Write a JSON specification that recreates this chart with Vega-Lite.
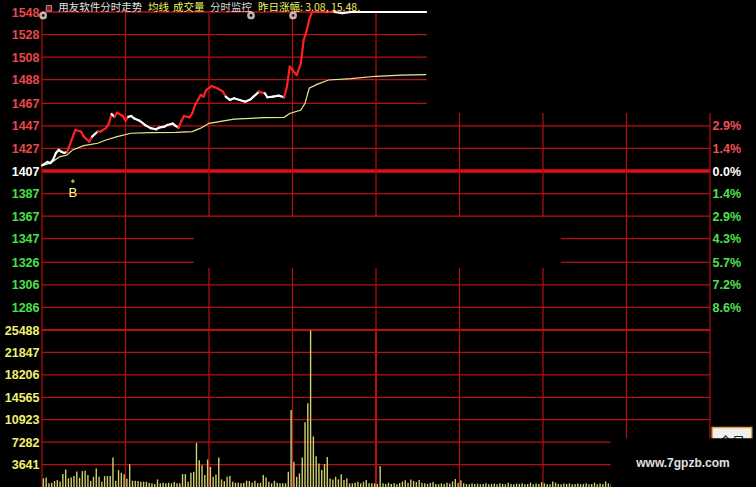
{
"$schema": "https://vega.github.io/schema/vega-lite/v6.json",
"background": "#000000",
"padding": {"left": 3, "top": 3, "right": 0, "bottom": 0},
"bounds": "flush",
"spacing": 0,
"config": {"view": {"stroke": null}, "axis": {"grid": false, "domain": false, "ticks": false, "labelFont": "Liberation Sans", "labelFontSize": 12.5, "labelFontWeight": "bold", "labelPadding": 3, "format": "d"}},
"datasets": {
"price": [{"t":0,"p":1412,"c":"dn"},{"t":2,"p":1415,"c":"dn"},{"t":3,"p":1414,"c":"dn"},{"t":4,"p":1417,"c":"dn"},{"t":5,"p":1423,"c":"dn"},{"t":6,"p":1425.7,"c":"dn"},{"t":7,"p":1424,"c":"dn"},{"t":8,"p":1423,"c":"dn"},{"t":9,"p":1424,"c":"dn"},{"t":12,"p":1443.4,"c":"up"},{"t":14,"p":1442,"c":"up"},{"t":15,"p":1437.5,"c":"up"},{"t":17,"p":1433,"c":"up"},{"t":18,"p":1437.5,"c":"up"},{"t":20,"p":1442,"c":"dn"},{"t":21,"p":1442,"c":"up"},{"t":23,"p":1445,"c":"up"},{"t":24,"p":1449,"c":"up"},{"t":25,"p":1457.6,"c":"up"},{"t":26,"p":1455,"c":"dn"},{"t":27,"p":1458.7,"c":"up"},{"t":29,"p":1455.8,"c":"up"},{"t":30,"p":1451.6,"c":"up"},{"t":31,"p":1455,"c":"up"},{"t":32,"p":1455.8,"c":"dn"},{"t":33,"p":1453.8,"c":"dn"},{"t":35,"p":1451.6,"c":"dn"},{"t":37,"p":1447.8,"c":"dn"},{"t":39,"p":1445,"c":"dn"},{"t":41,"p":1444,"c":"dn"},{"t":42,"p":1445.4,"c":"dn"},{"t":44,"p":1446.3,"c":"dn"},{"t":45,"p":1447.8,"c":"dn"},{"t":47,"p":1449,"c":"dn"},{"t":48,"p":1447,"c":"dn"},{"t":49,"p":1445.4,"c":"dn"},{"t":50,"p":1450.8,"c":"up"},{"t":51,"p":1455.8,"c":"up"},{"t":53,"p":1454.6,"c":"up"},{"t":54,"p":1458.2,"c":"up"},{"t":55,"p":1465.6,"c":"up"},{"t":57,"p":1474.4,"c":"up"},{"t":58,"p":1473,"c":"up"},{"t":59,"p":1478.8,"c":"up"},{"t":61,"p":1482.4,"c":"up"},{"t":62,"p":1481.2,"c":"up"},{"t":63,"p":1480.4,"c":"up"},{"t":65,"p":1477.4,"c":"up"},{"t":66,"p":1473,"c":"up"},{"t":67.5,"p":1470,"c":"dn"},{"t":69,"p":1471.5,"c":"dn"},{"t":71,"p":1470,"c":"dn"},{"t":73,"p":1468.5,"c":"dn"},{"t":75,"p":1470.6,"c":"dn"},{"t":76,"p":1473,"c":"dn"},{"t":78,"p":1477.4,"c":"dn"},{"t":79,"p":1476.5,"c":"up"},{"t":80,"p":1476,"c":"up"},{"t":81,"p":1472.4,"c":"dn"},{"t":83,"p":1473,"c":"dn"},{"t":85,"p":1473.8,"c":"dn"},{"t":87,"p":1472.4,"c":"dn"},{"t":88,"p":1481.8,"c":"up"},{"t":89,"p":1499.5,"c":"up"},{"t":90,"p":1496.6,"c":"up"},{"t":91.5,"p":1492,"c":"up"},{"t":93,"p":1502.5,"c":"up"},{"t":94,"p":1523,"c":"up"},{"t":95,"p":1530.5,"c":"up"},{"t":96,"p":1541,"c":"up"},{"t":97,"p":1548,"c":"up"},{"t":105,"p":1548,"c":"up"},{"t":108,"p":1547,"c":"dn"},{"t":111,"p":1548,"c":"dn"},{"t":138,"p":1548,"c":"dn"}],
"avg": [{"t":0,"a":1411.7},{"t":3,"a":1414},{"t":6.5,"a":1419.8},{"t":9,"a":1421.2},{"t":11,"a":1425.7},{"t":15,"a":1429.5},{"t":20,"a":1431.6},{"t":23,"a":1434.5},{"t":27,"a":1437.5},{"t":32,"a":1440.5},{"t":39,"a":1441},{"t":48,"a":1441.3},{"t":54,"a":1442},{"t":57,"a":1445},{"t":60,"a":1449.3},{"t":69,"a":1453},{"t":80,"a":1454.3},{"t":87,"a":1454.6},{"t":89,"a":1458},{"t":93,"a":1461},{"t":94.5,"a":1467},{"t":96,"a":1480.4},{"t":99,"a":1484},{"t":103,"a":1487.7},{"t":111,"a":1489},{"t":120,"a":1491},{"t":129,"a":1492},{"t":138,"a":1492.5}],
"pgrid": [{"p":1548},{"p":1528},{"p":1508},{"p":1488},{"p":1467},{"p":1447},{"p":1427},{"p":1407},{"p":1387},{"p":1367},{"p":1347},{"p":1326},{"p":1306},{"p":1286}],
"vlines": [{"t":0},{"t":30},{"t":60},{"t":90},{"t":120},{"t":150},{"t":180},{"t":210},{"t":240}],
"pmask": [{"t0":138.3,"t1":262,"p0":1458.5,"p1":1550},{"t0":54.6,"t1":186.5,"p0":1321,"p1":1366.3}],
"head": [{"t":5.8,"s":"用友软件分时走势","k":"name"},{"t":38.1,"s":"均线","k":"ma"},{"t":47.1,"s":"成交量","k":"vol"},{"t":60.4,"s":"分时监控","k":"mon"},{"t":77.6,"s":"昨日涨幅: 3.08, 15.48,","k":"prev"}],
"gears": [{"t":0.4,"p":1545},{"t":75.1,"p":1545},{"t":90.2,"p":1545}],
"vgrid": [{"v":3641},{"v":7282},{"v":10923},{"v":14565},{"v":18206},{"v":21847},{"v":25488}],
"vol": [{"m":0,"v":1400},{"m":1,"v":1560},{"m":2,"v":590},{"m":3,"v":700},{"m":4,"v":970},{"m":5,"v":1130},{"m":6,"v":900},{"m":7,"v":2100},{"m":8,"v":2840},{"m":9,"v":1400},{"m":10,"v":1560},{"m":11,"v":1770},{"m":12,"v":2500},{"m":13,"v":1500},{"m":14,"v":2580},{"m":15,"v":2630},{"m":16,"v":1930},{"m":17,"v":970},{"m":18,"v":1660},{"m":19,"v":3000},{"m":20,"v":1660},{"m":21,"v":860},{"m":22,"v":1770},{"m":23,"v":1770},{"m":24,"v":1770},{"m":25,"v":4780},{"m":26,"v":1020},{"m":27,"v":2740},{"m":28,"v":2310},{"m":29,"v":2090},{"m":30,"v":1340},{"m":31,"v":3700},{"m":32,"v":1020},{"m":33,"v":1020},{"m":34,"v":970},{"m":35,"v":860},{"m":36,"v":860},{"m":37,"v":860},{"m":38,"v":700},{"m":39,"v":590},{"m":40,"v":500},{"m":41,"v":1230},{"m":42,"v":590},{"m":43,"v":700},{"m":44,"v":590},{"m":45,"v":700},{"m":46,"v":590},{"m":47,"v":860},{"m":48,"v":590},{"m":49,"v":590},{"m":50,"v":2090},{"m":51,"v":2090},{"m":52,"v":860},{"m":53,"v":2310},{"m":54,"v":2470},{"m":55,"v":7140},{"m":56,"v":4350},{"m":57,"v":3540},{"m":58,"v":1930},{"m":59,"v":4450},{"m":60,"v":3270},{"m":61,"v":1660},{"m":62,"v":2040},{"m":63,"v":4780},{"m":64,"v":1230},{"m":65,"v":970},{"m":66,"v":1660},{"m":67,"v":1770},{"m":68,"v":860},{"m":69,"v":700},{"m":70,"v":700},{"m":71,"v":590},{"m":72,"v":700},{"m":73,"v":1020},{"m":74,"v":970},{"m":75,"v":700},{"m":76,"v":1020},{"m":77,"v":590},{"m":78,"v":700},{"m":79,"v":1930},{"m":80,"v":1560},{"m":81,"v":860},{"m":82,"v":590},{"m":83,"v":1020},{"m":84,"v":700},{"m":85,"v":590},{"m":86,"v":590},{"m":87,"v":590},{"m":88,"v":2470},{"m":89,"v":12500},{"m":90,"v":4080},{"m":91,"v":1660},{"m":92,"v":2200},{"m":93,"v":4780},{"m":94,"v":10520},{"m":95,"v":13580},{"m":96,"v":25400},{"m":97,"v":8210},{"m":98,"v":4990},{"m":99,"v":3810},{"m":100,"v":2740},{"m":101,"v":3700},{"m":102,"v":4890},{"m":103,"v":1400},{"m":104,"v":1230},{"m":105,"v":1660},{"m":106,"v":1230},{"m":107,"v":2090},{"m":108,"v":1130},{"m":109,"v":1400},{"m":110,"v":590},{"m":111,"v":590},{"m":112,"v":700},{"m":113,"v":860},{"m":114,"v":590},{"m":115,"v":860},{"m":116,"v":1130},{"m":117,"v":590},{"m":118,"v":590},{"m":119,"v":590},{"m":120,"v":480},{"m":121,"v":3380},{"m":122,"v":600},{"m":123,"v":500},{"m":124,"v":700},{"m":125,"v":500},{"m":126,"v":600},{"m":127,"v":450},{"m":128,"v":650},{"m":129,"v":900},{"m":130,"v":1100},{"m":131,"v":700},{"m":132,"v":1200},{"m":133,"v":1000},{"m":134,"v":800},{"m":135,"v":1150},{"m":136,"v":700},{"m":137,"v":600},{"m":138,"v":500},{"m":139,"v":650},{"m":140,"v":800},{"m":141,"v":500},{"m":142,"v":450},{"m":143,"v":600},{"m":144,"v":500},{"m":145,"v":700},{"m":146,"v":550},{"m":147,"v":900},{"m":148,"v":1300},{"m":149,"v":700},{"m":150,"v":1100},{"m":151,"v":600},{"m":152,"v":500},{"m":153,"v":450},{"m":154,"v":600},{"m":155,"v":500},{"m":156,"v":550},{"m":157,"v":450},{"m":158,"v":500},{"m":159,"v":600},{"m":160,"v":450},{"m":161,"v":500},{"m":162,"v":550},{"m":163,"v":450},{"m":164,"v":600},{"m":165,"v":500},{"m":166,"v":450},{"m":167,"v":700},{"m":168,"v":500},{"m":169,"v":450},{"m":170,"v":550},{"m":171,"v":500},{"m":172,"v":600},{"m":173,"v":450},{"m":174,"v":500},{"m":175,"v":700},{"m":176,"v":450},{"m":177,"v":550},{"m":178,"v":500},{"m":179,"v":800},{"m":180,"v":600},{"m":181,"v":500},{"m":182,"v":450},{"m":183,"v":900},{"m":184,"v":700},{"m":185,"v":500},{"m":186,"v":450},{"m":187,"v":550},{"m":188,"v":500},{"m":189,"v":600},{"m":190,"v":450},{"m":191,"v":500},{"m":192,"v":550},{"m":193,"v":450},{"m":194,"v":500},{"m":195,"v":600},{"m":196,"v":450},{"m":197,"v":500},{"m":198,"v":700},{"m":199,"v":450},{"m":200,"v":550},{"m":201,"v":500},{"m":202,"v":900},{"m":203,"v":600},{"m":204,"v":500}]
},
"vconcat": [
{
"width": 668, "height": 318,
"resolve": {"axis": {"y": "independent"}, "scale": {"color": "independent"}},
"layer": [
{"data": {"name": "pgrid"},
 "transform": [{"filter": "datum.p != 1407"}],
 "mark": {"type": "rule", "stroke": "#b81010", "strokeWidth": 1.3},
 "encoding": {
  "x": {"datum": 0, "type": "quantitative", "scale": {"domain": [0, 240], "nice": false, "zero": false}, "axis": null},
  "x2": {"datum": 240},
  "y": {"field": "p", "type": "quantitative", "scale": {"domain": [1266, 1548], "nice": false, "zero": false},
    "axis": {"orient": "left", "title": null, "minExtent": 39, "maxExtent": 39, "values": [1548,1528,1508,1488,1467,1447,1427,1407,1387,1367,1347,1326,1306,1286],
      "labelColor": {"condition": [{"test": "datum.value > 1407", "value": "#e84848"}, {"test": "datum.value == 1407", "value": "#ffffff"}], "value": "#48e048"}}}
 }},
{"data": {"name": "pgrid"},
 "transform": [{"filter": "datum.p == 1407"}],
 "mark": {"type": "rule", "stroke": "#e01010", "strokeWidth": 3.5},
 "encoding": {
  "x": {"datum": 0, "type": "quantitative", "scale": {"domain": [0, 240], "nice": false, "zero": false}, "axis": null},
  "x2": {"datum": 240},
  "y": {"field": "p", "type": "quantitative", "scale": {"domain": [1266, 1548], "nice": false, "zero": false},
    "axis": {"orient": "right", "title": null, "labelPadding": 2, "values": [1447,1427,1407,1387,1367,1347,1326,1306,1286],
      "labelExpr": "['2.9%','1.4%','0.0%','1.4%','2.9%','4.3%','5.7%','7.2%','8.6%'][indexof([1447,1427,1407,1387,1367,1347,1326,1306,1286], datum.value)]",
      "labelColor": {"condition": [{"test": "datum.value > 1407", "value": "#f05050"}, {"test": "datum.value == 1407", "value": "#ffffff"}], "value": "#50e050"}}}
 }},
{"data": {"name": "vlines"},
 "mark": {"type": "rule", "stroke": "#b81010", "strokeWidth": 1.2},
 "encoding": {
  "x": {"field": "t", "type": "quantitative", "scale": {"domain": [0, 240], "nice": false, "zero": false}, "axis": null},
  "y": {"datum": 1266, "type": "quantitative", "axis": null},
  "y2": {"datum": 1548},
  "strokeWidth": {"condition": {"test": "datum.t == 120", "value": 2}, "value": 1.2}
 }},
{"data": {"name": "pmask"},
 "mark": {"type": "rect", "fill": "#000000"},
 "encoding": {
  "x": {"field": "t0", "type": "quantitative", "axis": null},
  "x2": {"field": "t1"},
  "y": {"field": "p0", "type": "quantitative", "axis": null},
  "y2": {"field": "p1"}
 }},
{"data": {"name": "avg"},
 "mark": {"type": "line", "stroke": "#e8e890", "strokeWidth": 1.2},
 "encoding": {
  "x": {"field": "t", "type": "quantitative", "axis": null},
  "y": {"field": "a", "type": "quantitative", "axis": null}
 }},
{"data": {"name": "price"},
 "transform": [{"window": [{"op": "lag", "field": "t", "as": "t0"}, {"op": "lag", "field": "p", "as": "p0"}], "sort": [{"field": "t"}]}, {"filter": "datum.t0 != null"}],
 "mark": {"type": "rule", "strokeWidth": 2.2, "strokeCap": "round"},
 "encoding": {
  "x": {"field": "t0", "type": "quantitative", "axis": null},
  "x2": {"field": "t"},
  "y": {"field": "p0", "type": "quantitative", "axis": null},
  "y2": {"field": "p"},
  "color": {"field": "c", "type": "nominal", "scale": {"domain": ["up", "dn"], "range": ["#ff2020", "#ffffff"]}, "legend": null}
 }},
{"data": {"name": "gears"},
 "mark": {"type": "point", "shape": "circle", "filled": false, "stroke": "#ffffff", "strokeWidth": 2.5, "size": 28},
 "encoding": {
  "x": {"field": "t", "type": "quantitative", "axis": null},
  "y": {"field": "p", "type": "quantitative", "axis": null}
 }},
{"data": {"values": [{"t": 11.1, "p": 1398}]},
 "mark": {"type": "point", "shape": "diamond", "filled": true, "color": "#ffff40", "size": 18},
 "encoding": {
  "x": {"field": "t", "type": "quantitative", "axis": null},
  "y": {"field": "p", "type": "quantitative", "axis": null}
 }},
{"data": {"values": [{"t": 11.1, "p": 1387.5, "s": "B"}]},
 "mark": {"type": "text", "color": "#ffff80", "font": "Liberation Sans", "fontSize": 13, "align": "center", "baseline": "middle"},
 "encoding": {
  "x": {"field": "t", "type": "quantitative", "axis": null},
  "y": {"field": "p", "type": "quantitative", "axis": null},
  "text": {"field": "s"}
 }},
{"data": {"values": [{"t": 2.5, "p": 1551.3}]},
 "mark": {"type": "point", "shape": "square", "filled": true, "color": "#e02020", "stroke": "#ffffff", "strokeWidth": 0.8, "size": 30},
 "encoding": {
  "x": {"field": "t", "type": "quantitative", "axis": null},
  "y": {"field": "p", "type": "quantitative", "axis": null}
 }},
{"data": {"name": "head"},
 "mark": {"type": "text", "font": "Noto Sans CJK SC", "fontSize": 10.5, "align": "left", "baseline": "middle"},
 "encoding": {
  "x": {"field": "t", "type": "quantitative", "axis": null},
  "y": {"datum": 1551.3, "type": "quantitative", "axis": null},
  "text": {"field": "s"},
  "color": {"field": "k", "type": "nominal", "scale": {"domain": ["name", "ma", "vol", "mon", "prev"], "range": ["#e0e0e0", "#f0f060", "#f0f060", "#d8d8d8", "#f0f060"]}, "legend": null}
 }}
]
},
{
"width": 668, "height": 157,
"resolve": {"axis": {"y": "independent"}},
"layer": [
{"data": {"name": "vgrid"},
 "mark": {"type": "rule", "stroke": "#b81010"},
 "encoding": {
  "x": {"datum": 0, "type": "quantitative", "scale": {"domain": [0, 240], "nice": false, "zero": false}, "axis": null},
  "x2": {"datum": 240},
  "y": {"field": "v", "type": "quantitative", "scale": {"domain": [0, 25488], "nice": false, "zero": false},
   "axis": {"orient": "left", "title": null, "minExtent": 39, "maxExtent": 39, "values": [25488, 21847, 18206, 14565, 10923, 7282, 3641], "labelColor": "#f0f070"}},
  "strokeWidth": {"condition": {"test": "datum.v == 25488", "value": 2.2}, "value": 1.3}
 }},
{"data": {"name": "vlines"},
 "mark": {"type": "rule", "stroke": "#b81010"},
 "encoding": {
  "x": {"field": "t", "type": "quantitative", "axis": null},
  "y": {"datum": 0, "type": "quantitative", "axis": null},
  "y2": {"datum": 25488},
  "strokeWidth": {"condition": {"test": "datum.t == 120", "value": 2}, "value": 1.2}
 }},
{"data": {"name": "vol"},
 "transform": [{"calculate": "datum.m + 0.5", "as": "t"}],
 "mark": {"type": "rule", "stroke": "#d0d070", "strokeWidth": 1.4},
 "encoding": {
  "x": {"field": "t", "type": "quantitative", "axis": null},
  "y": {"field": "v", "type": "quantitative", "axis": null},
  "y2": {"datum": 0}
 }},
{"data": {"values": [{"t0": 240.8, "t1": 255, "v0": 7000, "v1": 9660}]},
 "mark": {"type": "rect", "fill": "#f0f0f0", "stroke": "#e0a040", "strokeWidth": 1.5},
 "encoding": {
  "x": {"field": "t0", "type": "quantitative", "axis": null},
  "x2": {"field": "t1"},
  "y": {"field": "v0", "type": "quantitative", "axis": null},
  "y2": {"field": "v1"}
 }},
{"data": {"values": [{"t": 247.9, "v": 8300, "s": "今日"}]},
 "mark": {"type": "text", "font": "Noto Sans CJK SC", "fontSize": 13, "color": "#202020", "align": "center", "baseline": "top"},
 "encoding": {
  "x": {"field": "t", "type": "quantitative", "axis": null},
  "y": {"field": "v", "type": "quantitative", "axis": null},
  "text": {"field": "s"}
 }},
{"data": {"values": [{"t0": 204.3, "t1": 262, "v0": 0, "v1": 7900}]},
 "mark": {"type": "rect", "fill": "#000000"},
 "encoding": {
  "x": {"field": "t0", "type": "quantitative", "axis": null},
  "x2": {"field": "t1"},
  "y": {"field": "v0", "type": "quantitative", "axis": null},
  "y2": {"field": "v1"}
 }},
{"data": {"values": [{"t": 230.3, "v": 3860, "s": "www.7gpzb.com"}]},
 "mark": {"type": "text", "font": "Liberation Sans", "fontSize": 12, "fontWeight": "bold", "color": "#e0e0e0", "align": "center", "baseline": "middle"},
 "encoding": {
  "x": {"field": "t", "type": "quantitative", "axis": null},
  "y": {"field": "v", "type": "quantitative", "axis": null},
  "text": {"field": "s"}
 }}
]
}
]
}
